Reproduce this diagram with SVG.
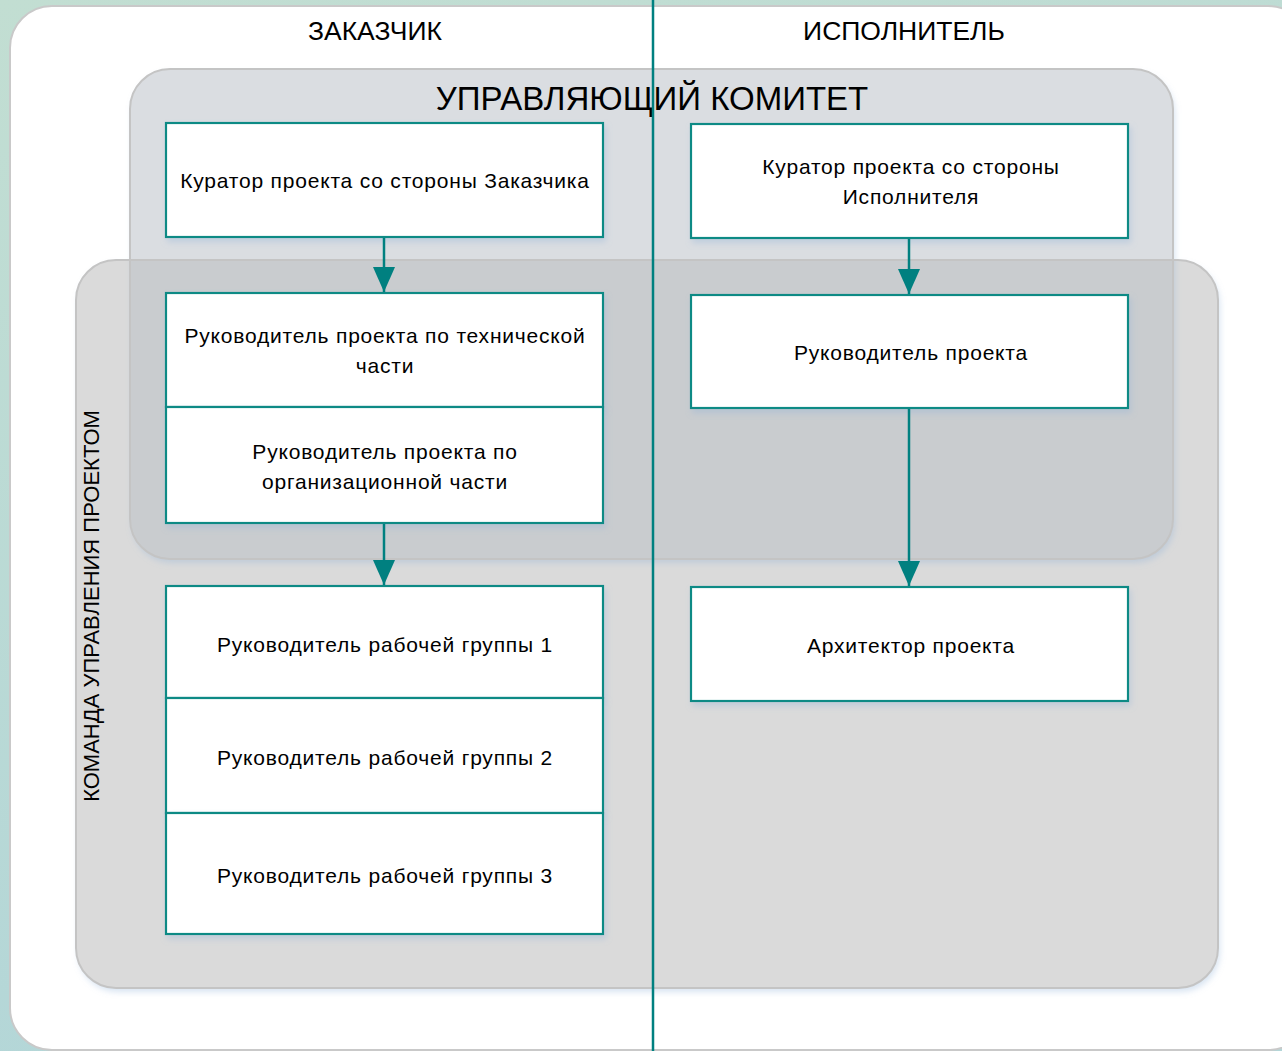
<svg xmlns="http://www.w3.org/2000/svg" width="1282" height="1051" viewBox="0 0 1282 1051">
<defs>
<linearGradient id="bg" x1="0" y1="0" x2="0.3" y2="1">
<stop offset="0" stop-color="#c2ded2"/>
<stop offset="1" stop-color="#b3d6d8"/>
</linearGradient>
<filter id="sh" x="-5%" y="-5%" width="110%" height="115%">
<feDropShadow dx="2" dy="4" stdDeviation="3" flood-color="#8fb0d8" flood-opacity="0.35"/>
</filter>
<clipPath id="cc"><rect x="130" y="69" width="1043" height="490" rx="40"/></clipPath>
<marker id="ah" viewBox="0 0 25 22" refX="25" refY="11" markerWidth="25" markerHeight="22" markerUnits="userSpaceOnUse" orient="auto">
<path d="M0,0 L25,11 L0,22 Z" fill="#008080"/>
</marker>
<style>
.box{fill:#ffffff;stroke:#0e8a85;stroke-width:2.2;filter:url(#sh)}
.t{font-family:"Liberation Sans",Arial,sans-serif;font-size:21px;letter-spacing:0.8px;fill:#000;text-anchor:middle}
.h{font-family:"Liberation Sans",Arial,sans-serif;font-size:26.5px;fill:#000;text-anchor:middle}
.conn{stroke:#008080;stroke-width:2.5;fill:none}
</style>
</defs>
<rect x="0" y="0" width="1282" height="1051" fill="url(#bg)"/>
<rect x="10" y="6" width="1300" height="1044" rx="42" fill="#ffffff" stroke="#c9c9c9" stroke-width="2"/>
<g id="team">
<rect x="76" y="260" width="1142" height="728" rx="40" fill="#dadada" filter="url(#sh)"/>
</g>
<g id="committee">
<rect x="130" y="69" width="1043" height="490" rx="40" fill="#dadde1" filter="url(#sh)"/>
<rect x="76" y="260" width="1142" height="728" rx="40" fill="#c9cccf" clip-path="url(#cc)"/>
<rect x="130" y="69" width="1043" height="490" rx="40" fill="none" stroke="#c4c4c4" stroke-width="2"/>
<text x="652" y="110" class="h" style="font-size:33px">УПРАВЛЯЮЩИЙ КОМИТЕТ</text>
</g>
<g id="team-outline">
<rect x="76" y="260" width="1142" height="728" rx="40" fill="none" stroke="#c4c4c4" stroke-width="2"/>
<text transform="translate(99,606) rotate(-90)" class="h" style="font-size:22px">КОМАНДА УПРАВЛЕНИЯ ПРОЕКТОМ</text>
</g>
<g id="lane-labels">
<text x="375" y="40" class="h">ЗАКАЗЧИК</text>
<text x="904" y="40" class="h">ИСПОЛНИТЕЛЬ</text>
</g>
<g id="n1"><rect class="box" x="166" y="123" width="437" height="114"/><text class="t" x="385" y="188">Куратор проекта со стороны Заказчика</text></g>
<g id="n2"><rect class="box" x="691" y="124" width="437" height="114"/><text class="t" x="911" y="174">Куратор проекта со стороны</text><text class="t" x="911" y="204">Исполнителя</text></g>
<g id="n3"><rect class="box" x="166" y="293" width="437" height="114"/><text class="t" x="385" y="343">Руководитель проекта по технической</text><text class="t" x="385" y="373">части</text></g>
<g id="n4"><rect class="box" x="166" y="407" width="437" height="116"/><text class="t" x="385" y="459">Руководитель проекта по</text><text class="t" x="385" y="489">организационной части</text></g>
<g id="n5"><rect class="box" x="691" y="295" width="437" height="113"/><text class="t" x="911" y="360">Руководитель проекта</text></g>
<g id="n6"><rect class="box" x="166" y="586" width="437" height="112"/><text class="t" x="385" y="652">Руководитель рабочей группы 1</text></g>
<g id="n7"><rect class="box" x="166" y="698" width="437" height="115"/><text class="t" x="385" y="765">Руководитель рабочей группы 2</text></g>
<g id="n8"><rect class="box" x="166" y="813" width="437" height="121"/><text class="t" x="385" y="883">Руководитель рабочей группы 3</text></g>
<g id="n9"><rect class="box" x="691" y="587" width="437" height="114"/><text class="t" x="911" y="653">Архитектор проекта</text></g>
<g id="connectors">
<line class="conn" x1="653" y1="0" x2="653" y2="1051"/>
<line class="conn" x1="384" y1="238" x2="384" y2="292" marker-end="url(#ah)"/>
<line class="conn" x1="909" y1="239" x2="909" y2="294" marker-end="url(#ah)"/>
<line class="conn" x1="384" y1="524" x2="384" y2="585" marker-end="url(#ah)"/>
<line class="conn" x1="909" y1="409" x2="909" y2="586" marker-end="url(#ah)"/>
</g>
</svg>
